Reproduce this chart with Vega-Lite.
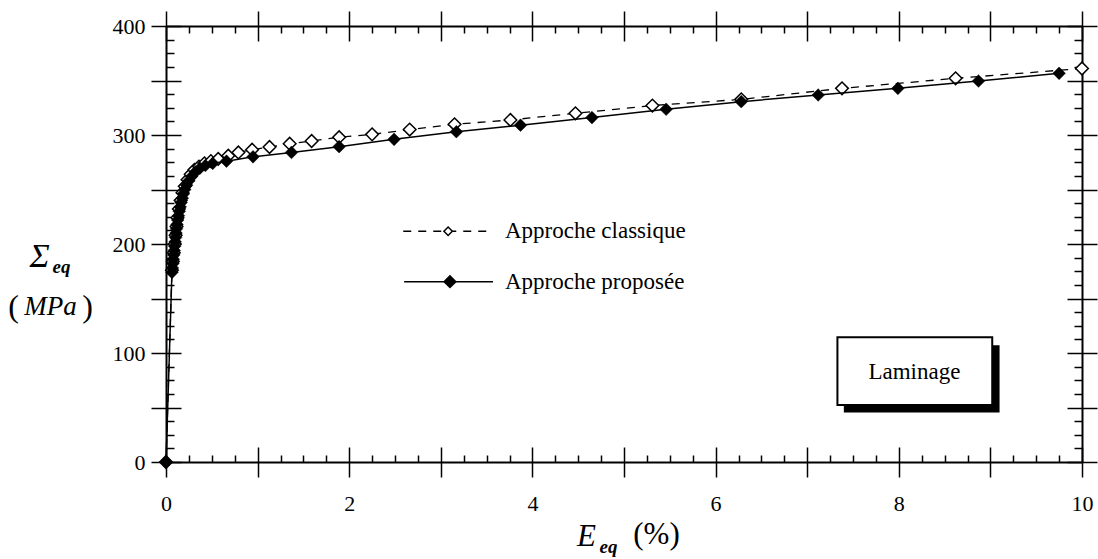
{
  "$schema": "https://vega.github.io/schema/vega-lite/v6.json",
  "width": 916,
  "height": 436,
  "autosize": "none",
  "padding": {"left": 166, "top": 26, "right": 16, "bottom": 97},
  "background": "white",
  "config": {
    "view": {"stroke": null},
    "axis": {
      "grid": false,
      "domain": false,
      "labels": false,
      "ticks": true,
      "domainColor": "black",
      "domainWidth": 2,
      "tickColor": "black",
      "tickWidth": 1.5,
      "labelFont": "Liberation Serif",
      "labelFontSize": 22,
      "labelColor": "black",
      "labelFlush": false,
      "labelOverlap": false,
      "titleFont": "Liberation Serif",
      "titleColor": "black",
      "titleFontWeight": "normal",
      "titleAngle": 0,
      "titleAlign": "center",
      "titleBaseline": "alphabetic",
      "title": null
    }
  },
  "datasets": {
    "curves": [
      {"s": "classique", "x": 0, "y": 0},
      {"s": "classique", "x": 0.065, "y": 176},
      {"s": "classique", "x": 0.075, "y": 184},
      {"s": "classique", "x": 0.085, "y": 192},
      {"s": "classique", "x": 0.095, "y": 200},
      {"s": "classique", "x": 0.105, "y": 208},
      {"s": "classique", "x": 0.115, "y": 216},
      {"s": "classique", "x": 0.125, "y": 224},
      {"s": "classique", "x": 0.14, "y": 232},
      {"s": "classique", "x": 0.16, "y": 240},
      {"s": "classique", "x": 0.18, "y": 247},
      {"s": "classique", "x": 0.205, "y": 253},
      {"s": "classique", "x": 0.235, "y": 259},
      {"s": "classique", "x": 0.27, "y": 264},
      {"s": "classique", "x": 0.31, "y": 268},
      {"s": "classique", "x": 0.36, "y": 271},
      {"s": "classique", "x": 0.42, "y": 274},
      {"s": "classique", "x": 0.49, "y": 276},
      {"s": "classique", "x": 0.57, "y": 278},
      {"s": "classique", "x": 0.68, "y": 281},
      {"s": "classique", "x": 0.79, "y": 284},
      {"s": "classique", "x": 0.94, "y": 286.5},
      {"s": "classique", "x": 1.13, "y": 289},
      {"s": "classique", "x": 1.35, "y": 292},
      {"s": "classique", "x": 1.59, "y": 294.5},
      {"s": "classique", "x": 1.89, "y": 298},
      {"s": "classique", "x": 2.25, "y": 300.6},
      {"s": "classique", "x": 2.66, "y": 305},
      {"s": "classique", "x": 3.15, "y": 309.8},
      {"s": "classique", "x": 3.76, "y": 313.8},
      {"s": "classique", "x": 4.47, "y": 319.9},
      {"s": "classique", "x": 5.31, "y": 327},
      {"s": "classique", "x": 6.28, "y": 332.7},
      {"s": "classique", "x": 7.38, "y": 342.8},
      {"s": "classique", "x": 8.62, "y": 352},
      {"s": "classique", "x": 10.0, "y": 361},
      {"s": "proposee", "x": 0, "y": 0},
      {"s": "proposee", "x": 0.065, "y": 174},
      {"s": "proposee", "x": 0.07, "y": 178},
      {"s": "proposee", "x": 0.075, "y": 182},
      {"s": "proposee", "x": 0.08, "y": 186},
      {"s": "proposee", "x": 0.085, "y": 190},
      {"s": "proposee", "x": 0.09, "y": 194},
      {"s": "proposee", "x": 0.095, "y": 198},
      {"s": "proposee", "x": 0.1, "y": 202},
      {"s": "proposee", "x": 0.105, "y": 206},
      {"s": "proposee", "x": 0.11, "y": 210},
      {"s": "proposee", "x": 0.115, "y": 214},
      {"s": "proposee", "x": 0.12, "y": 218},
      {"s": "proposee", "x": 0.128, "y": 222},
      {"s": "proposee", "x": 0.136, "y": 226},
      {"s": "proposee", "x": 0.145, "y": 230},
      {"s": "proposee", "x": 0.155, "y": 234},
      {"s": "proposee", "x": 0.165, "y": 238},
      {"s": "proposee", "x": 0.178, "y": 242},
      {"s": "proposee", "x": 0.19, "y": 246},
      {"s": "proposee", "x": 0.205, "y": 250},
      {"s": "proposee", "x": 0.225, "y": 254},
      {"s": "proposee", "x": 0.25, "y": 258},
      {"s": "proposee", "x": 0.28, "y": 262},
      {"s": "proposee", "x": 0.32, "y": 266},
      {"s": "proposee", "x": 0.37, "y": 269.5},
      {"s": "proposee", "x": 0.43, "y": 272},
      {"s": "proposee", "x": 0.51, "y": 274},
      {"s": "proposee", "x": 0.66, "y": 276},
      {"s": "proposee", "x": 0.95, "y": 280},
      {"s": "proposee", "x": 1.37, "y": 284},
      {"s": "proposee", "x": 1.89, "y": 289.3},
      {"s": "proposee", "x": 2.49, "y": 296},
      {"s": "proposee", "x": 3.17, "y": 303},
      {"s": "proposee", "x": 3.87, "y": 309},
      {"s": "proposee", "x": 4.65, "y": 316},
      {"s": "proposee", "x": 5.46, "y": 323.6},
      {"s": "proposee", "x": 6.28, "y": 330.6},
      {"s": "proposee", "x": 7.12, "y": 336.7},
      {"s": "proposee", "x": 7.99, "y": 342.8},
      {"s": "proposee", "x": 8.87, "y": 349.5},
      {"s": "proposee", "x": 9.75, "y": 356.6}
    ],
    "legendLines": [
      {"s": "classique", "x": 2.59, "y": 211.7},
      {"s": "classique", "x": 3.57, "y": 211.7},
      {"s": "proposee", "x": 2.6, "y": 165.4},
      {"s": "proposee", "x": 3.57, "y": 165.4}
    ],
    "legendPoints": [
      {"s": "classique", "x": 3.08, "y": 211.7},
      {"s": "proposee", "x": 3.1, "y": 165.4}
    ],
    "legendText": [
      {"x": 3.7, "y": 211.7, "t": "Approche classique"},
      {"x": 3.7, "y": 165.4, "t": "Approche proposée"}
    ],
    "shadow": [{"x": 7.4, "x2": 9.1, "y": 107, "y2": 45.5}],
    "box": [{"x": 7.33, "x2": 9.02, "y": 114.4, "y2": 52.3}],
    "boxText": [{"x": 8.17, "y": 83, "t": "Laminage"}]
  },
  "resolve": {
    "scale": {"x": "shared", "y": "shared"},
    "axis": {"x": "independent", "y": "independent"}
  },
  "layer": [
    {
      "data": {"name": "curves"},
      "transform": [{"filter": "datum.s === 'classique'"}],
      "mark": {"type": "line", "stroke": "black", "strokeWidth": 1.3, "strokeDash": [8, 7]},
      "encoding": {
        "x": {"field": "x", "type": "quantitative", "scale": {"domain": [0, 10], "nice": false, "zero": false},
          "axis": {"orient": "bottom", "values": [0,1,2,3,4,5,6,7,8,9,10], "tickSize": 15, "labels": true, "domain": true,
            "labelExpr": "datum.value % 2 === 0 ? datum.label : ''", "labelPadding": 16,
            "title": "E", "titleFontStyle": "italic", "titleFontSize": 31, "titleX": 420, "titleY": 83}},
        "y": {"field": "y", "type": "quantitative", "scale": {"domain": [0, 400], "nice": false},
          "axis": {"orient": "left", "values": [0,50,100,150,200,250,300,350,400], "tickSize": 15, "labels": true, "domain": true,
            "labelExpr": "datum.value % 100 === 0 ? datum.label : ''", "labelPadding": 6,
            "title": "Σ", "titleFontStyle": "italic", "titleFontSize": 34, "titleX": -127, "titleY": 240}},
        "order": {"field": "x", "type": "quantitative"}
      }
    },
    {
      "data": {"name": "curves"},
      "transform": [{"filter": "datum.s === 'classique'"}],
      "mark": {"type": "point", "shape": "diamond", "size": 160, "filled": true, "fill": "white", "stroke": "black", "strokeWidth": 1.5, "opacity": 1},
      "encoding": {
        "x": {"field": "x", "type": "quantitative", "scale": {"domain": [0, 10], "nice": false, "zero": false},
          "axis": {"orient": "bottom", "values": [0,1,2,3,4,5,6,7,8,9,10], "tickSize": -15,
            "title": "eq", "titleFontStyle": "italic", "titleFontWeight": "bold", "titleFontSize": 19, "titleX": 442, "titleY": 90}},
        "y": {"field": "y", "type": "quantitative", "scale": {"domain": [0, 400], "nice": false},
          "axis": {"orient": "left", "values": [0,50,100,150,200,250,300,350,400], "tickSize": -15,
            "title": "eq", "titleFontStyle": "italic", "titleFontWeight": "bold", "titleFontSize": 19, "titleX": -105, "titleY": 246}}
      }
    },
    {
      "data": {"name": "curves"},
      "transform": [{"filter": "datum.s === 'proposee'"}],
      "mark": {"type": "line", "stroke": "black", "strokeWidth": 1.5},
      "encoding": {
        "x": {"field": "x", "type": "quantitative", "scale": {"domain": [0, 10], "nice": false, "zero": false},
          "axis": {"orient": "bottom", "values": [0.25,0.5,0.75,1.25,1.5,1.75,2.25,2.5,2.75,3.25,3.5,3.75,4.25,4.5,4.75,5.25,5.5,5.75,6.25,6.5,6.75,7.25,7.5,7.75,8.25,8.5,8.75,9.25,9.5,9.75], "tickSize": -7,
            "title": "(%)", "titleFontSize": 31, "titleX": 490, "titleY": 81}},
        "y": {"field": "y", "type": "quantitative", "scale": {"domain": [0, 400], "nice": false},
          "axis": {"orient": "left", "values": [12.5,25,37.5,62.5,75,87.5,112.5,125,137.5,162.5,175,187.5,212.5,225,237.5,262.5,275,287.5,312.5,325,337.5,362.5,375,387.5], "tickSize": -8,
            "title": "MPa", "titleFontStyle": "italic", "titleFontSize": 27, "titleX": -116, "titleY": 288}},
        "order": {"field": "x", "type": "quantitative"}
      }
    },
    {
      "data": {"name": "curves"},
      "transform": [{"filter": "datum.s === 'proposee'"}],
      "mark": {"type": "point", "shape": "diamond", "size": 160, "filled": true, "fill": "black", "stroke": "black", "strokeWidth": 0.5, "opacity": 1},
      "encoding": {
        "x": {"field": "x", "type": "quantitative", "scale": {"domain": [0, 10], "nice": false, "zero": false},
          "axis": {"orient": "top", "values": [0,1,2,3,4,5,6,7,8,9,10], "tickSize": 15, "domain": true}},
        "y": {"field": "y", "type": "quantitative", "scale": {"domain": [0, 400], "nice": false},
          "axis": {"orient": "right", "values": [0,50,100,150,200,250,300,350,400], "tickSize": 15, "domain": true}}
      }
    },
    {
      "data": {"name": "legendLines"},
      "transform": [{"filter": "datum.s === 'classique'"}],
      "mark": {"type": "line", "stroke": "black", "strokeWidth": 1.3, "strokeDash": [8, 7]},
      "encoding": {
        "x": {"field": "x", "type": "quantitative", "scale": {"domain": [0, 10], "nice": false, "zero": false},
          "axis": {"orient": "top", "values": [0,1,2,3,4,5,6,7,8,9,10], "tickSize": -15}},
        "y": {"field": "y", "type": "quantitative", "scale": {"domain": [0, 400], "nice": false},
          "axis": {"orient": "right", "values": [0,50,100,150,200,250,300,350,400], "tickSize": -15}}
      }
    },
    {
      "data": {"name": "legendLines"},
      "transform": [{"filter": "datum.s === 'proposee'"}],
      "mark": {"type": "line", "stroke": "black", "strokeWidth": 1.5},
      "encoding": {
        "x": {"field": "x", "type": "quantitative", "scale": {"domain": [0, 10], "nice": false, "zero": false},
          "axis": {"orient": "top", "values": [0.25,0.5,0.75,1.25,1.5,1.75,2.25,2.5,2.75,3.25,3.5,3.75,4.25,4.5,4.75,5.25,5.5,5.75,6.25,6.5,6.75,7.25,7.5,7.75,8.25,8.5,8.75,9.25,9.5,9.75], "tickSize": -7}},
        "y": {"field": "y", "type": "quantitative", "scale": {"domain": [0, 400], "nice": false},
          "axis": {"orient": "right", "values": [12.5,25,37.5,62.5,75,87.5,112.5,125,137.5,162.5,175,187.5,212.5,225,237.5,262.5,275,287.5,312.5,325,337.5,362.5,375,387.5], "tickSize": -8}}
      }
    },
    {
      "data": {"name": "legendPoints"},
      "transform": [{"filter": "datum.s === 'classique'"}],
      "mark": {"type": "point", "shape": "diamond", "size": 70, "filled": true, "fill": "white", "stroke": "black", "strokeWidth": 1.5, "opacity": 1},
      "encoding": {
        "x": {"field": "x", "type": "quantitative", "scale": {"domain": [0, 10], "nice": false, "zero": false}, "axis": null},
        "y": {"field": "y", "type": "quantitative", "scale": {"domain": [0, 400], "nice": false},
          "axis": {"orient": "left", "ticks": false, "title": "(", "titleFontSize": 32, "titleX": -153, "titleY": 290}}
      }
    },
    {
      "data": {"name": "legendPoints"},
      "transform": [{"filter": "datum.s === 'proposee'"}],
      "mark": {"type": "point", "shape": "diamond", "size": 120, "filled": true, "fill": "black", "stroke": "black", "opacity": 1},
      "encoding": {
        "x": {"field": "x", "type": "quantitative", "scale": {"domain": [0, 10], "nice": false, "zero": false}, "axis": null},
        "y": {"field": "y", "type": "quantitative", "scale": {"domain": [0, 400], "nice": false},
          "axis": {"orient": "left", "ticks": false, "title": ")", "titleFontSize": 32, "titleX": -79, "titleY": 290}}
      }
    },
    {
      "data": {"name": "legendText"},
      "mark": {"type": "text", "align": "left", "baseline": "middle", "font": "Liberation Serif", "fontSize": 23, "color": "black"},
      "encoding": {
        "x": {"field": "x", "type": "quantitative", "scale": {"domain": [0, 10], "nice": false, "zero": false}, "axis": null},
        "y": {"field": "y", "type": "quantitative", "scale": {"domain": [0, 400], "nice": false}, "axis": null},
        "text": {"field": "t"}
      }
    },
    {
      "data": {"name": "shadow"},
      "mark": {"type": "rect", "fill": "black"},
      "encoding": {
        "x": {"field": "x", "type": "quantitative", "scale": {"domain": [0, 10], "nice": false, "zero": false}, "axis": null},
        "x2": {"field": "x2"},
        "y": {"field": "y", "type": "quantitative", "scale": {"domain": [0, 400], "nice": false}, "axis": null},
        "y2": {"field": "y2"}
      }
    },
    {
      "data": {"name": "box"},
      "mark": {"type": "rect", "fill": "white", "stroke": "black", "strokeWidth": 2},
      "encoding": {
        "x": {"field": "x", "type": "quantitative", "scale": {"domain": [0, 10], "nice": false, "zero": false}, "axis": null},
        "x2": {"field": "x2"},
        "y": {"field": "y", "type": "quantitative", "scale": {"domain": [0, 400], "nice": false}, "axis": null},
        "y2": {"field": "y2"}
      }
    },
    {
      "data": {"name": "boxText"},
      "mark": {"type": "text", "align": "center", "baseline": "middle", "font": "Liberation Serif", "fontSize": 23, "color": "black"},
      "encoding": {
        "x": {"field": "x", "type": "quantitative", "scale": {"domain": [0, 10], "nice": false, "zero": false}, "axis": null},
        "y": {"field": "y", "type": "quantitative", "scale": {"domain": [0, 400], "nice": false}, "axis": null},
        "text": {"field": "t"}
      }
    }
  ]
}
